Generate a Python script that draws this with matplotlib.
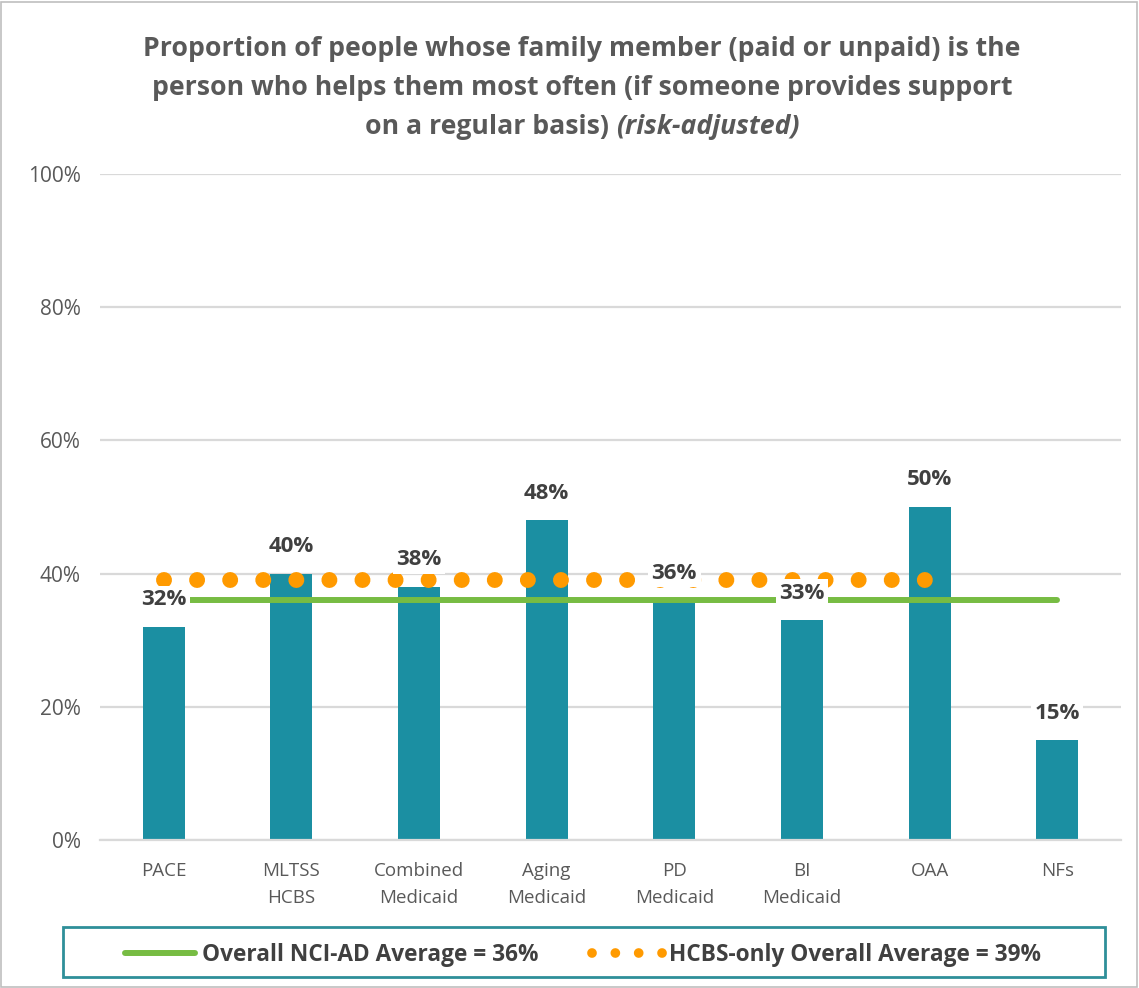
import matplotlib
matplotlib.use("Agg")
import matplotlib.pyplot as plt
from matplotlib.lines import Line2D
from matplotlib.patches import Rectangle
from matplotlib.ticker import PercentFormatter

categories = ["PACE", "MLTSS\nHCBS", "Combined\nMedicaid", "Aging\nMedicaid",
              "PD\nMedicaid", "BI\nMedicaid", "OAA", "NFs"]
values = [32, 40, 38, 48, 36, 33, 50, 15]
overall_avg = 36
hcbs_avg = 39
hcbs_categories = categories[:7]
legend_labels = ["Overall NCI-AD Average = 36%", "HCBS-only Overall Average = 39%"]
title_lines = ["Proportion of people whose family member (paid or unpaid) is the",
               "person who helps them most often (if someone provides support"]
title_last = ["on a regular basis) ", "(risk-adjusted)"]

BAR = "#1B8FA2"
GREEN = "#77BC43"
ORANGE = "#FF9A00"
GREY = "#595959"
FONT = "Open Sans"
TSIZE = 19.2

W, H = 1139, 988
fig = plt.figure(figsize=(W / 100, H / 100), dpi=100)
ax = fig.add_axes([100 / W, 1 - 840 / H, (1121 - 100) / W, (840 - 174) / H])

x = list(range(len(categories)))
ax.bar(x, values, width=0.33, color=BAR, zorder=2)
ax.plot(x, [overall_avg] * len(categories), color=GREEN, lw=4.3,
        solid_capstyle="round", zorder=3)
ax.plot(range(len(hcbs_categories)), [hcbs_avg] * len(hcbs_categories), color=ORANGE,
        lw=11.5, linestyle=(0, (0.001, 2.07)), dash_capstyle="round", zorder=3)

for xi, v in zip(x, values):
    ax.annotate(f"{v}%", (xi, v), xytext=(0, 19.5), textcoords="offset points",
                ha="center", va="center", fontsize=16, fontweight="bold",
                color="#404040", family=FONT, zorder=5,
                bbox=dict(fc="white", ec="none", pad=2.5))

ax.set_xlim(-0.5, len(categories) - 0.5)
ax.set_ylim(0, 100)
ax.set_yticks(range(0, 101, 20))
ax.yaxis.set_major_formatter(PercentFormatter(decimals=0))
ax.set_xticks(x)
ax.set_xticklabels(categories, fontsize=13.5, color=GREY, family=FONT, linespacing=1.6)
for lab in ax.get_yticklabels():
    lab.set_fontsize(15)
    lab.set_color(GREY)
    lab.set_family(FONT)
ax.tick_params(axis="x", length=0, pad=16)
ax.tick_params(axis="y", length=0, pad=14)
ax.grid(axis="y", color="#D9D9D9", lw=1.6, zorder=0)
ax.set_axisbelow(True)
for s in ["top", "right", "left"]:
    ax.spines[s].set_visible(False)
ax.spines["bottom"].set_color("#D9D9D9")
ax.spines["bottom"].set_linewidth(1.6)

# title
for i, line in enumerate(title_lines):
    fig.text(582 / W, 1 - (49.5 + 38.5 * i) / H, line, ha="center", va="center",
             fontsize=TSIZE, fontweight="bold", color=GREY, family=FONT)
fig.canvas.draw()
r = fig.canvas.get_renderer()
t1 = fig.text(0, 1 - 127 / H, title_last[0], ha="left", va="center", fontsize=TSIZE,
              fontweight="bold", color=GREY, family=FONT)
t2 = fig.text(0, 1 - 127 / H, title_last[1], ha="left", va="center", fontsize=TSIZE,
              fontweight="bold", style="italic", color=GREY, family=FONT)
w1 = t1.get_window_extent(r).width
w2 = t2.get_window_extent(r).width
start = 582 - (w1 + w2) / 2
t1.set_x(start / W)
t2.set_x((start + w1) / W)

# legend
handles = [Line2D([0], [0], color=GREEN, lw=4.3, solid_capstyle="round"),
           Line2D([0], [0], color=ORANGE, lw=7, linestyle=(0, (0.001, 2.4)),
                  dash_capstyle="round")]
fig.legend(handles, legend_labels, loc="center", bbox_to_anchor=(583 / W, 1 - 955 / H),
           ncol=2, frameon=False, handlelength=3.1, handletextpad=0.3, columnspacing=2.4,
           prop=dict(family=FONT, weight="bold", size=16.3), labelcolor="#404040")
fig.patches.append(Rectangle((63 / W, 1 - 977 / H), (1105 - 63) / W, 50 / H,
                             transform=fig.transFigure, fill=False, ec="#2F8F99", lw=2))
fig.patches.append(Rectangle((1 / W, 1 / H), (W - 3) / W, (H - 3) / H,
                             transform=fig.transFigure, fill=False, ec="#BFBFBF", lw=1.2))

fig.savefig("out.png", dpi=100)
